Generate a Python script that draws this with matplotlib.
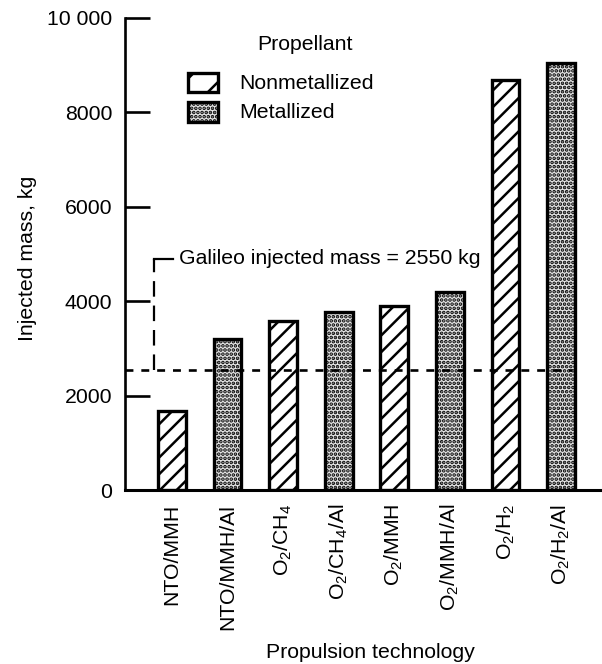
import matplotlib.pyplot as plt
from matplotlib.patches import Rectangle

plt.rcParams['font.family'] = ['Liberation Sans', 'DejaVu Sans']
plt.rcParams['mathtext.fontset'] = 'custom'
plt.rcParams['mathtext.rm'] = 'Liberation Sans'
plt.rcParams['mathtext.default'] = 'regular'
plt.rcParams['hatch.linewidth'] = 1.8

# Injected mass for each propulsion option (kg)
technologies = ['NTO/MMH', 'NTO/MMH/Al', r'O$_2$/CH$_4$', r'O$_2$/CH$_4$/Al',
                r'O$_2$/MMH', r'O$_2$/MMH/Al', r'O$_2$/H$_2$', r'O$_2$/H$_2$/Al']
injected_mass = [1680, 3200, 3580, 3780, 3900, 4200, 8680, 9050]
metallized = [False, True, False, True, False, True, False, True]
galileo_mass = 2550
yticks = [0, 2000, 4000, 6000, 8000, 10000]
ytick_labels = ['0', '2000', '4000', '6000', '8000', '10 000']

fs = 15.3
stipple = dict(facecolor='#e4e4e4', hatch='....')
stripes = dict(facecolor='white', hatch='//')

fig = plt.figure(figsize=(6.02, 6.64), dpi=100)
ax = fig.add_axes([0.2076, 0.262, 0.789, 0.711])

x = list(range(len(technologies)))
for xi, m, is_metal in zip(x, injected_mass, metallized):
    style = stipple if is_metal else stripes
    ax.bar(xi, m, width=0.5, edgecolor='black', linewidth=2.4, zorder=2, **style)

# Galileo reference line with its dashed leader up to the label
ax.plot([-0.845, 7.2], [galileo_mass, galileo_mass], color='black',
        linestyle=(0, (3, 3)), linewidth=1.9, zorder=3)
ax.plot([-0.32, -0.32], [galileo_mass, 4900], color='black',
        linestyle=(0, (7, 4)), linewidth=1.6, zorder=3)
ax.plot([-0.32, 0.02], [4900, 4900], color='black', linewidth=1.6, zorder=3)
ax.text(0.12, 4900, f'Galileo injected mass = {galileo_mass} kg',
        fontsize=fs, va='center', ha='left')

ax.set_xlim(-0.845, 7.70)
ax.set_ylim(0, 10000)
ax.set_yticks(yticks)
ax.set_yticklabels(ytick_labels, fontsize=fs)
ax.set_xticks(x)
ax.set_xticklabels(technologies, rotation=90, fontsize=fs)
ax.tick_params(axis='y', direction='in', length=18, width=1.9, pad=9)
ax.tick_params(axis='x', length=0, pad=10)

for side in ['top', 'right']:
    ax.spines[side].set_visible(False)
ax.spines['left'].set_linewidth(1.9)
ax.spines['bottom'].set_linewidth(2.2)

ax.set_ylabel('Injected mass, kg', fontsize=fs)
ax.yaxis.set_label_coords(-0.185, 0.49)
fig.text(370 / 602, 1 - 652 / 664, 'Propulsion technology', fontsize=fs,
         ha='center', va='center')

# Legend drawn by hand
ax.text(0.379, 0.943, 'Propellant', transform=ax.transAxes, fontsize=fs,
        ha='center', va='center')
ax.add_patch(Rectangle((0.133, 0.843), 0.063, 0.040, transform=ax.transAxes,
                       edgecolor='black', linewidth=2.4, facecolor='white',
                       hatch='/'))
ax.add_patch(Rectangle((0.133, 0.779), 0.063, 0.042, transform=ax.transAxes,
                       edgecolor='black', linewidth=2.4, **stipple))
ax.text(0.24, 0.862, 'Nonmetallized', transform=ax.transAxes, fontsize=fs,
        va='center')
ax.text(0.24, 0.80, 'Metallized', transform=ax.transAxes, fontsize=fs,
        va='center')

fig.savefig('out.png', dpi=100)
